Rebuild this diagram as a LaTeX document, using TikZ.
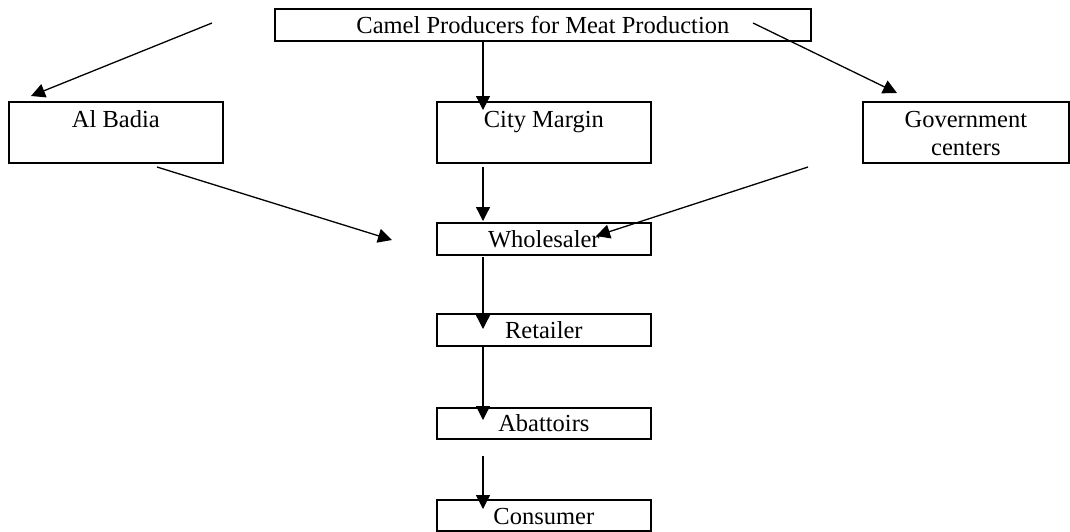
\documentclass[tikz,border=0pt]{standalone}
\usepackage{fontspec}
\setmainfont{Liberation Serif}
\usetikzlibrary{arrows.meta}
\begin{document}
\begin{tikzpicture}[x=1pt,y=-1pt,
  box/.style={draw, line width=1.7pt, inner sep=0pt, anchor=north west,
    font=\fontsize{24.5}{28}\selectfont},
  flow/.style={line width=1.3pt, -{Triangle[length=14pt,width=14pt]}}]
\useasboundingbox (0,0) rectangle (1070,531);
% boxes
\node[box, minimum width=536pt, minimum height=32pt, text height=25pt, text depth=7pt] (prod) at (274,8) {Camel Producers for Meat Production};
\node[box, minimum width=214pt, minimum height=61pt, text height=26pt, text depth=35pt] (badia) at (8,101) {Al Badia};
\node[box, minimum width=214pt, minimum height=61pt, text height=26pt, text depth=35pt] (city) at (436,101) {City Margin};
\node[box, minimum width=206pt, minimum height=61pt, text height=54pt, text depth=7pt, align=center] (gov) at (862,101) {Government\\centers};
\node[box, minimum width=214pt, minimum height=32pt, text height=25pt, text depth=7pt] (whole) at (436,222) {Wholesaler};
\node[box, minimum width=214pt, minimum height=32pt, text height=25pt, text depth=7pt] (retail) at (436,313) {Retailer};
\node[box, minimum width=214pt, minimum height=31pt, text height=24pt, text depth=7pt] (abat) at (436,407) {Abattoirs};
\node[box, minimum width=214pt, minimum height=31pt, text height=25pt, text depth=6pt] (cons) at (436,499) {Consumer};
% connector end points
\coordinate (p1) at (212,23);  \coordinate (b1) at (31,96);
\coordinate (p2) at (483,40);  \coordinate (c1) at (483,110);
\coordinate (p3) at (753,23);  \coordinate (g1) at (897,93);
\coordinate (b2) at (157,167); \coordinate (w1) at (392,240);
\coordinate (c2) at (483,167); \coordinate (w2) at (483,221);
\coordinate (g2) at (808,167); \coordinate (w3) at (596,236);
\coordinate (w4) at (483,257); \coordinate (r1) at (483,329);
\coordinate (r2) at (483,346); \coordinate (a1) at (483,420);
\coordinate (a2) at (483,456); \coordinate (k1) at (483,509);
% connectors
\draw[flow] (p1) -- (b1);
\draw[flow] (p2) -- (c1);
\draw[flow] (p3) -- (g1);
\draw[flow] (b2) -- (w1);
\draw[flow] (c2) -- (w2);
\draw[flow] (g2) -- (w3);
\draw[flow] (w4) -- (r1);
\draw[flow] (r2) -- (a1);
\draw[flow] (a2) -- (k1);
\end{tikzpicture}
\end{document}
